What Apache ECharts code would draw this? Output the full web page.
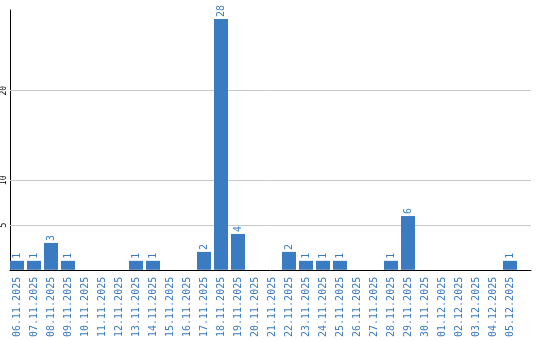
<!DOCTYPE html>
<html><head><meta charset="utf-8">
<script src="https://cdn.jsdelivr.net/npm/echarts@6/dist/echarts.min.js"></script>
<style>html,body{margin:0;padding:0;background:#fff}#c{width:540px;height:340px}</style>
</head><body><div id="c"></div>
<script>
var categories = ['06.11.2025','07.11.2025','08.11.2025','09.11.2025','10.11.2025','11.11.2025','12.11.2025','13.11.2025','14.11.2025','15.11.2025','16.11.2025','17.11.2025','18.11.2025','19.11.2025','20.11.2025','21.11.2025','22.11.2025','23.11.2025','24.11.2025','25.11.2025','26.11.2025','27.11.2025','28.11.2025','29.11.2025','30.11.2025','01.12.2025','02.12.2025','03.12.2025','04.12.2025','05.12.2025'];
var values = [1,1,3,1,0,0,0,1,1,0,0,2,28,4,0,0,2,1,1,1,0,0,1,6,0,0,0,0,0,1];
var yTicks = [5,10,20];

var blue = '#3b7bc1';
var mono = 'DejaVu Sans Mono';
var chart = echarts.init(document.getElementById('c'), null, {renderer:'canvas'});
chart.setOption({
  animation: false,
  grid: [
    {left:10, top:10, width:521, height:260},
    {left:8.5, top:10, width:510, height:260}
  ],
  xAxis: [
    {type:'value', gridIndex:0, min:0, max:1, axisLine:{show:true, onZero:false, lineStyle:{color:'#000', width:1}}, axisTick:{show:false}, axisLabel:{show:false}, splitLine:{show:false}},
    {type:'category', gridIndex:1, data:categories, axisLine:{show:false}, axisTick:{show:false},
      axisLabel:{interval:0, rotate:90, color:blue, fontFamily:mono, fontSize:10, margin:7}}
  ],
  yAxis: [
    {type:'value', gridIndex:0, min:0, max:29, axisLine:{show:true, lineStyle:{color:'#000', width:1}}, axisTick:{show:false}, splitLine:{show:false},
      axisLabel:{customValues:yTicks, rotate:90, color:'#000', fontFamily:mono, fontSize:8, margin:2}},
    {type:'value', gridIndex:1, min:0, max:29, show:false, splitLine:{show:false}}
  ],
  series: [
    {type:'line', xAxisIndex:0, yAxisIndex:0, data:[], silent:true,
      markLine:{silent:true, symbol:['none','none'], label:{show:false}, z:1,
        lineStyle:{color:'#c8c8c8', type:'solid', width:1},
        data: yTicks.map(function(v){return {yAxis:v};})}},
    {type:'bar', xAxisIndex:1, yAxisIndex:1, data:values, z:10, barWidth:14,
      itemStyle:{color:blue},
      label:{show:true, position:'top', rotate:90, align:'left', verticalAlign:'middle', distance:2, color:blue, fontFamily:mono, fontSize:10,
        formatter:function(p){return p.value>0?String(p.value):'';}}}
  ]
});
</script></body></html>
